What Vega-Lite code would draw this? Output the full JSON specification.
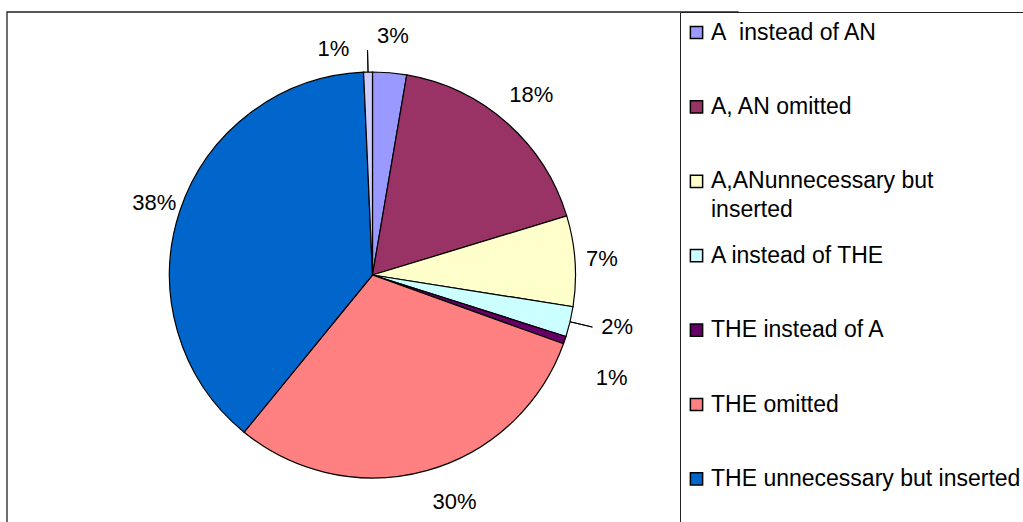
{
  "$schema": "https://vega.github.io/schema/vega-lite/v6.json",
  "width": 731,
  "height": 526,
  "autosize": {"type": "none"},
  "padding": {"left": 7, "top": 12, "right": 285, "bottom": 0},
  "background": "white",
  "config": {
    "view": {"stroke": null},
    "font": "Liberation Sans",
    "style": {"guide-label": {"lineHeight": 29}}
  },
  "data": {
    "values": [
      {"k": 1, "cat": "A\u00a0 instead of AN", "share": 0.027},
      {"k": 2, "cat": "A, AN omitted", "share": 0.176},
      {"k": 3, "cat": "A,ANunnecessary but inserted", "share": 0.072},
      {"k": 4, "cat": "A instead of THE", "share": 0.024},
      {"k": 5, "cat": "THE instead of A", "share": 0.006},
      {"k": 6, "cat": "THE omitted", "share": 0.304},
      {"k": 7, "cat": "THE unnecessary but inserted", "share": 0.384},
      {"k": 8, "cat": "Other", "share": 0.007}
    ]
  },
  "transform": [
    {"stack": "share", "groupby": [], "sort": [{"field": "k", "order": "ascending"}], "as": ["s0", "s1"]},
    {"calculate": "(datum.s0 + datum.s1) / 2", "as": "mid"}
  ],
  "layer": [
    {
      "transform": [{"filter": "datum.k == 1"}],
      "mark": {"type": "rect", "fill": null, "stroke": "#222222", "strokeWidth": 1.3},
      "encoding": {}
    },
    {
      "mark": {"type": "arc", "outerRadius": 203, "stroke": "black", "strokeWidth": 1.2},
      "encoding": {
        "theta": {"field": "s0", "type": "quantitative", "scale": {"domain": [0, 1], "range": [0, 6.283185307179586]}},
        "theta2": {"field": "s1"},
        "color": {
          "field": "cat",
          "type": "nominal",
          "scale": {
            "domain": ["A\u00a0 instead of AN", "A, AN omitted", "A,ANunnecessary but inserted", "A instead of THE", "THE instead of A", "THE omitted", "THE unnecessary but inserted", "Other"],
            "range": ["#9999FF", "#993366", "#FFFFCC", "#CCFFFF", "#660066", "#FF8080", "#0066CC", "#CCCCFF"]
          },
          "legend": {
            "title": null,
            "orient": "none",
            "legendX": 673,
            "legendY": 0,
            "direction": "vertical",
            "padding": 9,
            "strokeColor": "#222222",
            "fillColor": "white",
            "symbolType": "square",
            "symbolSize": 150,
            "symbolOpacity": 1,
            "symbolOffset": -4,
            "labelFont": "Liberation Sans",
            "labelFontSize": 23,
            "labelColor": "black",
            "labelLimit": 500,
            "labelOffset": 3,
            "rowPadding": 21.4,
            "gridAlign": "all",
            "labelExpr": "datum.label == 'A,ANunnecessary but inserted' ? ['A,ANunnecessary but', 'inserted'] : datum.label",
            "encode": {
              "symbols": {"update": {"stroke": {"value": "black"}, "strokeWidth": {"value": 1.5}}}
            }
          }
        }
      }
    },
    {
      "transform": [{"filter": "datum.k == 4"}],
      "mark": {"type": "arc", "innerRadius": 203, "outerRadius": 226, "stroke": "black", "strokeWidth": 1, "fillOpacity": 0},
      "encoding": {
        "theta": {"field": "mid", "type": "quantitative"},
        "theta2": {"field": "mid"}
      }
    },
    {
      "transform": [{"filter": "datum.k == 8"}],
      "mark": {"type": "arc", "innerRadius": 203, "outerRadius": 225, "stroke": "black", "strokeWidth": 1, "fillOpacity": 0},
      "encoding": {
        "theta": {"field": "mid", "type": "quantitative"},
        "theta2": {"field": "mid"}
      }
    },
    {
      "transform": [{"filter": "datum.k == 1 || datum.k == 2"}],
      "mark": {"type": "text", "radius": 240, "fontSize": 22, "font": "Liberation Sans", "color": "black", "align": "center", "baseline": "middle"},
      "encoding": {
        "theta": {"field": "mid", "type": "quantitative"},
        "text": {"field": "share", "format": ".0%"}
      }
    },
    {
      "transform": [{"filter": "datum.k == 3 || datum.k == 7"}],
      "mark": {"type": "text", "radius": 230, "fontSize": 22, "font": "Liberation Sans", "color": "black", "align": "center", "baseline": "middle"},
      "encoding": {
        "theta": {"field": "mid", "type": "quantitative"},
        "text": {"field": "share", "format": ".0%"}
      }
    },
    {
      "transform": [{"filter": "datum.k == 6"}],
      "mark": {"type": "text", "radius": 240, "dx": 18, "dy": -4, "fontSize": 22, "font": "Liberation Sans", "color": "black", "align": "center", "baseline": "middle"},
      "encoding": {
        "theta": {"field": "mid", "type": "quantitative"},
        "text": {"field": "share", "format": ".0%"}
      }
    },
    {
      "transform": [{"filter": "datum.k == 4"}],
      "mark": {"type": "text", "radius": 236, "dx": -1, "dy": -2, "fontSize": 22, "font": "Liberation Sans", "color": "black", "align": "left", "baseline": "middle"},
      "encoding": {
        "theta": {"field": "mid", "type": "quantitative"},
        "text": {"field": "share", "format": ".0%"}
      }
    },
    {
      "transform": [{"filter": "datum.k == 5"}],
      "mark": {"type": "text", "radius": 240, "dx": -4, "dy": 26, "fontSize": 22, "font": "Liberation Sans", "color": "black", "align": "left", "baseline": "middle"},
      "encoding": {
        "theta": {"field": "mid", "type": "quantitative"},
        "text": {"field": "share", "format": ".0%"}
      }
    },
    {
      "transform": [{"filter": "datum.k == 8"}],
      "mark": {"type": "text", "radius": 240, "dx": -18, "dy": 14, "fontSize": 22, "font": "Liberation Sans", "color": "black", "align": "right", "baseline": "middle"},
      "encoding": {
        "theta": {"field": "mid", "type": "quantitative"},
        "text": {"field": "share", "format": ".0%"}
      }
    }
  ]
}
